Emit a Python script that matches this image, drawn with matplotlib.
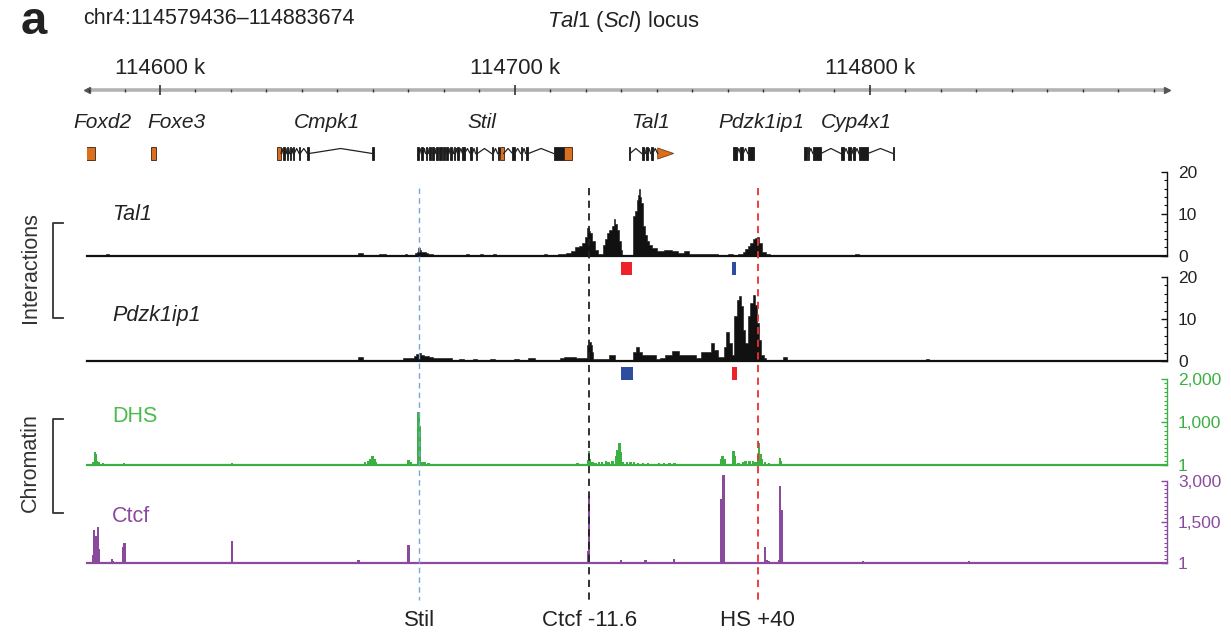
import matplotlib.pyplot as plt
import numpy as np
from matplotlib.patches import Rectangle, Polygon

plt.rcParams['font.family'] = ['Liberation Sans', 'DejaVu Sans']
plt.rcParams['mathtext.fontset'] = 'custom'
plt.rcParams['mathtext.it'] = 'Liberation Sans:italic'
plt.rcParams['mathtext.rm'] = 'Liberation Sans'

W, H = 1231, 634
START, END = 114579.436, 114883.674   # kb, chr4 window

# ---------------- data (positions in kb) ----------------
ruler_labels = [114600, 114700, 114800]

gene_names = ['Foxd2', 'Foxe3', 'Cmpk1', 'Stil', 'Tal1', 'Pdzk1ip1', 'Cyp4x1']
gene_label_pos = [114583.9, 114604.5, 114647.1, 114690.8, 114738.2, 114769.5, 114796.3]
gene_exons = [
    [(114579.2, 114581.8, 'o')],
    [(114597.5, 114598.9, 'o')],
    [(114633.0, 114634.1, 'o'), (114634.7, 114635.3, 'k'), (114635.7, 114636.1, 'k'),
     (114636.5, 114637.0, 'k'), (114637.5, 114637.8, 'k'), (114639.2, 114639.5, 'k'),
     (114641.5, 114642.0, 'k'), (114659.8, 114660.4, 'k')],
    [(114672.5, 114672.9, 'k'), (114673.6, 114674.2, 'k'), (114674.8, 114675.3, 'k'),
     (114675.7, 114676.3, 'k'), (114676.7, 114677.3, 'k'), (114677.7, 114678.3, 'k'),
     (114678.7, 114679.3, 'k'), (114679.7, 114680.3, 'k'), (114680.7, 114681.2, 'k'),
     (114681.7, 114682.2, 'k'), (114682.7, 114683.2, 'k'), (114683.8, 114684.3, 'k'),
     (114685.2, 114685.8, 'k'), (114687.4, 114688.0, 'k'), (114688.9, 114689.4, 'k'),
     (114693.4, 114693.9, 'k'), (114695.1, 114695.6, 'k'), (114695.9, 114696.8, 'o'),
     (114699.3, 114699.9, 'k'), (114701.6, 114702.1, 'k'), (114703.0, 114703.8, 'k'),
     (114710.9, 114713.7, 'k'), (114713.7, 114716.2, 'o')],
    [(114732.0, 114732.4, 'k'), (114735.7, 114736.3, 'k'), (114736.8, 114737.4, 'k'),
     (114738.2, 114738.8, 'k'), (114740.2, 114744.7, 'o')],
    [(114761.4, 114762.6, 'k'), (114763.5, 114764.3, 'k'), (114765.6, 114767.3, 'k')],
    [(114781.4, 114782.2, 'k'), (114782.5, 114782.8, 'k'), (114783.9, 114786.2, 'k'),
     (114791.8, 114792.7, 'k'), (114793.8, 114794.6, 'k'), (114795.2, 114795.8, 'k'),
     (114796.9, 114799.4, 'k'), (114806.5, 114806.9, 'k')],
]
gene_arrow = [False, False, False, False, True, False, False]

# capture fragments under the interaction tracks
frag_tal1 = [(114729.8, 114733.0, 'red'), (114761.1, 114762.2, 'blue')]
frag_pdzk = [(114729.8, 114733.3, 'blue'), (114761.1, 114762.5, 'red')]

# highlighted elements
mark_pos = [114673.1, 114720.9, 114768.4]
mark_names = ['Stil', 'Ctcf -11.6', 'HS +40']
mark_colors = ['#7aa6dc', '#222222', '#ee2e2e']

tal1_pos = [114579.4, 114584.8, 114585.0, 114585.6, 114585.8,
            114655.7, 114655.9, 114657.0, 114657.2,
            114661.6, 114661.8, 114663.5, 114663.7,
            114668.9, 114669.1, 114669.6, 114669.8,
            114671.8, 114672.0, 114672.6, 114673.0, 114673.4, 114673.8, 114674.5, 114675.2, 114676.0, 114676.9, 114677.1,
            114686.0, 114686.2, 114687.0, 114687.2,
            114690.0, 114690.2, 114690.8, 114691.0,
            114693.8, 114694.0, 114694.6, 114694.8,
            114708.0, 114708.2, 114709.0, 114709.2,
            114711.5, 114712.8, 114714.0, 114715.0, 114716.5, 114717.5, 114718.5, 114719.3, 114720.0, 114720.5,
            114721.0, 114721.3, 114722.1, 114723.0, 114723.6, 114724.7,
            114725.0, 114725.6, 114726.1, 114726.9, 114727.5, 114728.1, 114728.4, 114728.9, 114729.5, 114730.0, 114730.3,
            114733.1, 114733.4, 114734.0, 114734.5, 114734.8, 114735.1, 114735.4, 114735.7, 114736.3, 114736.8, 114737.4,
            114738.2, 114739.1, 114741.0, 114743.0, 114745.3, 114746.7, 114748.7, 114749.5, 114752.0, 114754.0, 114757.1, 114757.3,
            114759.9, 114760.1, 114761.4, 114761.6,
            114763.8, 114764.5, 114765.2, 114765.9, 114766.6, 114767.3, 114768.0, 114768.4, 114769.0, 114770.1, 114771.6, 114772.1,
            114795.8, 114796.0, 114796.9, 114797.1,
            114883.7]
tal1_val = [0, 0, 0.5, 0.5, 0,
            0, 0.7, 0.7, 0,
            0, 0.4, 0.4, 0,
            0, 0.4, 0.4, 0,
            0, 0.6, 1.0, 1.8, 1.4, 1.0, 0.8, 0.6, 0.4, 0.3, 0,
            0, 0.3, 0.3, 0,
            0, 0.3, 0.3, 0,
            0, 0.3, 0.3, 0,
            0, 0.3, 0.3, 0,
            0, 0.5, 0.4, 0.7, 1.2, 2.0, 2.4, 3.0, 4.5, 6.6,
            5.8, 5.4, 3.4, 1.4, 0.3, 0.3,
            2.6, 4.0, 5.4, 6.2, 7.0, 8.8, 7.5, 6.2, 3.4, 1.4, 0,
            0, 9.4, 10.6, 13.4, 14.5, 16.0, 14.0, 12.6, 7.0, 5.0, 3.4,
            2.6, 1.8, 1.2, 1.4, 1.2, 0.6, 1.2, 0.4, 0.4, 0.3, 0.4, 0,
            0, 0.5, 0.5, 0,
            0.3, 0.8, 1.5, 2.2, 3.0, 3.9, 4.2, 4.4, 3.0, 1.0, 0.4, 0,
            0, 0.5, 0.5, 0,
            0]

pdzk_pos = [114579.4,
            114655.7, 114655.9, 114657.0, 114657.2,
            114668.3, 114668.5, 114671.4, 114671.9, 114672.6, 114673.3, 114674.0, 114675.0, 114676.4, 114677.6, 114682.1, 114682.3,
            114684.1, 114684.3, 114685.5, 114685.7, 114688.0, 114688.2, 114689.2, 114689.4, 114693.0, 114693.2, 114694.2, 114694.4,
            114699.7, 114699.9, 114701.0, 114701.2, 114703.5, 114703.7, 114705.5, 114705.7,
            114712.6, 114712.8, 114714.8, 114716.5, 114717.6, 114719.9, 114720.5, 114721.0, 114721.6, 114721.9, 114722.1,
            114726.1, 114726.9, 114727.8, 114728.4, 114733.1,
            114733.4, 114734.5, 114735.4, 114736.3, 114739.1, 114740.2, 114741.5, 114743.0, 114745.6, 114746.7, 114750.4,
            114751.5, 114753.2, 114754.6, 114755.7, 114756.6, 114757.5, 114758.7,
            114758.8, 114759.9, 114760.8, 114761.4, 114762.2, 114762.8, 114763.3, 114764.2, 114764.5, 114765.3, 114765.9,
            114766.7, 114767.3, 114767.8, 114768.4, 114769.0, 114769.8, 114770.4, 114771.2, 114774.0, 114774.3,
            114775.5, 114775.7, 114776.2, 114776.9, 114777.1,
            114794.0, 114794.2, 114795.0, 114795.2,
            114815.6, 114815.8, 114816.4, 114816.6,
            114883.7]
pdzk_val = [0,
            0, 1.0, 1.0, 0,
            0, 0.8, 0.8, 1.2, 1.6, 2.0, 1.4, 1.1, 1.0, 0.6, 0.6, 0,
            0, 0.4, 0.4, 0, 0, 0.5, 0.5, 0, 0, 0.4, 0.4, 0,
            0, 0.5, 0.5, 0, 0, 0.6, 0.6, 0,
            0, 0.6, 1.0, 1.0, 0.6, 0.6, 3.8, 4.6, 3.8, 2.2, 0.5,
            0.5, 1.4, 1.4, 0.2, 0.2,
            2.2, 3.4, 2.2, 1.4, 1.4, 0.4, 0.8, 1.4, 2.5, 1.4, 1.4,
            0.8, 2.2, 2.2, 4.4, 2.6, 1.0, 1.0,
            3.4, 7.0, 4.2, 1.4, 10.6, 14.5, 15.5, 13.0, 7.4, 4.2, 10.6,
            13.7, 15.7, 13.3, 9.0, 5.0, 1.4, 0.6, 0.2, 0.2, 0,
            0, 0.9, 0.9, 0.3, 0,
            0, 0.2, 0.2, 0,
            0, 0.5, 0.5, 0,
            0]

dhs_pos = [114581.1, 114581.7, 114581.9, 114582.2, 114582.8, 114583.9, 114586.5, 114589.8, 114620.3,
           114657.8, 114658.7, 114659.2, 114659.8, 114660.4, 114660.9, 114670.0, 114670.5, 114672.8, 114673.1,
           114673.6, 114674.5, 114675.6,
           114717.6, 114720.5, 114720.8, 114721.1, 114721.9, 114722.7, 114723.6, 114724.5, 114725.6, 114726.4,
           114727.5, 114728.4, 114728.9, 114729.5, 114729.8,
           114730.5, 114731.5, 114732.5, 114733.5, 114734.7, 114736.0, 114737.5, 114739.0, 114740.5, 114742.0,
           114743.5, 114745.0, 114747.5,
           114758.0, 114758.5, 114759.1, 114761.6, 114761.9, 114763.0, 114764.2, 114765.0, 114766.0, 114767.0,
           114767.8, 114768.4, 114768.7, 114769.1, 114769.6, 114770.4, 114771.6, 114774.6, 114774.9]
dhs_val = [80, 310, 250, 100, 80, 40, 30, 40, 40,
           80, 100, 150, 210, 150, 80, 125, 60, 1225, 900,
           80, 60, 40,
           50, 120, 315, 150, 60, 40, 60, 80, 90, 70,
           100, 200, 350, 510, 300,
           80, 80, 60, 60, 40, 50, 40, 30, 50, 50,
           50, 40, 30,
           150, 210, 150, 315, 200, 50, 80, 100, 90, 100,
           80, 200, 510, 250, 150, 80, 40, 170, 100]

ctcf_pos = [114581.1, 114581.4, 114581.7, 114582.1, 114582.5, 114582.8, 114586.5, 114586.8, 114589.7, 114590.0,
            114620.3, 114655.9, 114656.1, 114670.0, 114670.2, 114720.5, 114720.9, 114729.8, 114736.8, 114744.7,
            114758.2, 114758.7, 114770.4, 114771.0, 114771.6, 114774.3, 114774.6, 114775.1, 114798.0, 114827.9]
ctcf_val = [300, 1200, 900, 1000, 1300, 500, 140, 80, 600, 720,
            790, 100, 60, 660, 100, 420, 2440, 100, 100, 150,
            2330, 3225, 570, 120, 80, 100, 2810, 1920, 80, 80]

# ---------------- layout helpers (pixels from top-left) ----------------
X0, X1 = 87, 1167


def box(x0, y0, x1, y1):
    return [x0 / W, 1 - y1 / H, (x1 - x0) / W, (y1 - y0) / H]


fig = plt.figure(figsize=(W / 100, H / 100), dpi=100)

# pixel overlay for free text / brackets
pa = fig.add_axes([0, 0, 1, 1], zorder=6)
pa.set_xlim(0, W)
pa.set_ylim(H, 0)
pa.axis('off')
pa.patch.set_alpha(0)

# genomic overlay: x in kb, y in pixels
ga = fig.add_axes(box(X0, 0, X1, H), zorder=5)
ga.set_xlim(START, END)
ga.set_ylim(H, 0)
ga.axis('off')
ga.patch.set_alpha(0)

# header
pa.text(21, 34, 'a', fontsize=34, fontweight='bold', ha='left', va='baseline', color='#222')
pa.text(83, 18, 'chr4:114579436\u2013114883674', fontsize=15.5, ha='left', va='center', color='#222')
pa.text(623, 22, r'$\mathit{Tal1}$ ($\mathit{Scl}$) locus', fontsize=15.8, ha='center', va='center', color='#222')

# ruler
ga.plot([START, END], [90, 90], color='#b3b3b3', lw=2.6, solid_capstyle='butt', clip_on=False, zorder=1)
ga.plot([START], [90], marker='<', ms=4, color='#555', clip_on=False)
ga.plot([END], [90], marker='>', ms=4, color='#555', clip_on=False)
ticks = np.arange(114580, 114881, 10)
ga.vlines([t for t in ticks if t % 100], 88.5, 91.5, color='#333', lw=1.0, zorder=2)
ga.vlines(ruler_labels, 85, 95, color='#333', lw=1.2, zorder=2)
for t in ruler_labels:
    ga.text(t, 68, f'{t} k', fontsize=16, ha='center', va='center', color='#222')

# genes
ORANGE = '#d9701f'
ey0, eh, ymid = 147, 13, 153.5
for name, lx, exons, arrow in zip(gene_names, gene_label_pos, gene_exons, gene_arrow):
    ga.text(lx, 123, name, fontsize=15, style='italic', ha='center', va='center', color='#222')
    for (a, b, _), (c, d, _) in zip(exons[:-1], exons[1:]):
        if c > b:
            m = (b + c) / 2
            ga.plot([b, m, c], [ymid, ymid - 5, ymid], color='#222', lw=0.9)
    for i, (a, b, col) in enumerate(exons):
        fc = ORANGE if col == 'o' else '#1a1a1a'
        if arrow and i == len(exons) - 1:
            ga.add_patch(Polygon([[a, ey0 + 1], [b, ymid], [a, ey0 + eh - 1]], closed=True,
                                 fc=fc, ec='#7a3a0a', lw=0.6))
        else:
            ga.add_patch(Rectangle((a, ey0), b - a, eh, fc=fc,
                                   ec='#3a2010' if col == 'o' else '#1a1a1a', lw=0.6))

# ---------------- signal tracks ----------------
tracks = [
    # label, baseline px, top px, ylim, ticks, ticklabels, color, labelcolor, italic
    ('Tal1', 255.7, 172, (0, 20), [0, 10, 20], ['0', '10', '20'], '#111111', '#222', True),
    ('Pdzk1ip1', 361, 277, (0, 20), [0, 10, 20], ['0', '10', '20'], '#111111', '#222', True),
    ('DHS', 465, 379, (1, 2000), [1, 1000, 2000], ['1', '1,000', '2,000'], '#3cb043', '#4cbb4c', False),
    ('Ctcf', 563, 481, (1, 3000), [1, 1500, 3000], ['1', '1,500', '3,000'], '#8a4a9e', '#8a4a9e', False),
]
minor_steps = [2, 2, 100, 150]
label_y = [215, 315, 416, 516]
axes = []
for (lab, yb, yt, lim, tk, tkl, col, lcol, it), ms, ly in zip(tracks, minor_steps, label_y):
    ax = fig.add_axes(box(X0, yt, X1, yb), zorder=2)
    ax.set_xlim(START, END)
    ax.set_ylim(*lim)
    ax.patch.set_alpha(0)
    for s in ['top', 'left', 'bottom']:
        ax.spines[s].set_visible(False)
    ax.spines['right'].set_color(col)
    ax.spines['right'].set_linewidth(1.0)
    ax.set_xticks([])
    ax.yaxis.tick_right()
    ax.set_yticks(tk)
    ax.set_yticklabels(tkl)
    ax.set_yticks(np.arange(0, lim[1] + 1, ms), minor=True)
    ax.tick_params(axis='y', which='major', direction='in', length=4, width=1, color=col,
                   labelcolor=col if col != '#111111' else '#222', labelsize=12.5, pad=8)
    ax.tick_params(axis='y', which='minor', direction='in', length=2, width=0.8, color=col)
    ax.axhline(lim[0], color=col, lw=1.6, zorder=3, clip_on=False)
    pa.text(112, ly, lab, fontsize=15.5, color=lcol, style='italic' if it else 'normal',
            ha='left', va='center')
    axes.append(ax)

ax_tal1, ax_pdzk, ax_dhs, ax_ctcf = axes
ax_tal1.fill_between(tal1_pos, tal1_val, step='mid', color='#111111', lw=0.4, edgecolor='#111111', clip_on=False)
ax_pdzk.fill_between(pdzk_pos, pdzk_val, step='mid', color='#111111', lw=0.4, edgecolor='#111111', clip_on=False)
ax_dhs.bar(dhs_pos, dhs_val, width=0.7, bottom=1, color='#3cb043', lw=0, clip_on=False)
ax_ctcf.bar(ctcf_pos, ctcf_val, width=0.65, bottom=1, color='#8a4a9e', lw=0, clip_on=False)

# capture fragments
for frags, y in [(frag_tal1, 262), (frag_pdzk, 367)]:
    for a, b, c in frags:
        ga.add_patch(Rectangle((a, y), b - a, 13, fc='#ee2229' if c == 'red' else '#2f4da0', lw=0))

# dashed guide lines and labels
for x, name, c in zip(mark_pos, mark_names, mark_colors):
    ga.plot([x, x], [188, 600], color=c, lw=1.3 if c != '#7aa6dc' else 1.0, dashes=(4, 3), zorder=4)
    ga.text(x, 620, name, fontsize=16, ha='center', va='center', color='#222')

# side labels and brackets
pa.text(30, 268, 'Interactions', fontsize=15.5, rotation=90, ha='center', va='center', color='#333')
pa.text(30, 463, 'Chromatin', fontsize=15.5, rotation=90, ha='center', va='center', color='#333')
for y0, y1 in [(223, 318), (419, 513)]:
    pa.plot([63, 53, 53, 63], [y0, y0, y1, y1], color='#333', lw=1.3)

fig.savefig('out.png', dpi=100)
